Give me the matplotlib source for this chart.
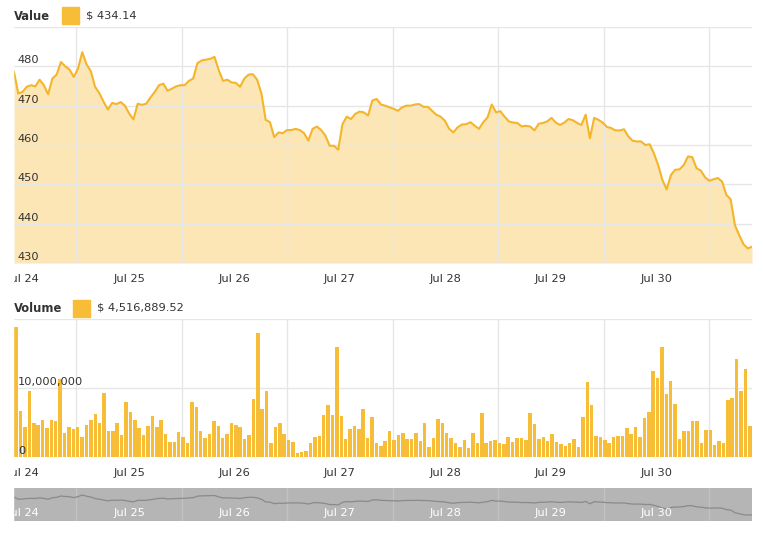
import matplotlib.pyplot as plt
import matplotlib.dates as mdates
from matplotlib.patches import Rectangle
import numpy as np
import pandas as pd

plt.rcParams['font.family'] = ['DejaVu Sans']

# hourly series, one week
start = pd.Timestamp('2016-07-23 21:48')
n_hours = 168

price = [
    478.6, 473.1, 473.5, 474.8, 475.2, 474.9, 476.6, 475.2, 472.9, 476.9,
    477.9, 481.1, 480.0, 479.2, 477.3, 479.4, 483.6, 480.5, 478.8, 474.8,
    473.2, 471.0, 469.0, 470.7, 470.4, 470.9, 470.0, 468.0, 466.5, 470.5,
    470.2, 470.5, 472.1, 473.5, 475.2, 475.6, 473.8, 474.3, 474.9, 475.2,
    475.2, 476.3, 476.9, 480.8, 481.5, 481.7, 481.9, 482.4, 479.0, 476.3,
    476.6, 475.9, 475.8, 474.8, 476.9, 477.9, 478.0, 476.6, 473.1,
    466.4, 465.8, 462.0, 463.2, 463.0, 463.8, 463.8, 464.1, 463.8, 463.0,
    461.1, 464.1, 464.7, 463.8, 462.4, 459.8, 459.8, 458.8, 465.3, 467.2,
    466.6, 467.9, 468.5, 468.3, 467.5, 471.3, 471.7, 470.3, 470.0, 469.6,
    469.2, 468.7, 469.6, 470.0, 470.0, 470.3, 470.4, 469.7, 469.7, 468.7,
    467.7, 467.2, 466.2, 464.1, 463.2, 464.5, 465.2, 465.3, 465.8, 464.9,
    464.1, 465.8, 467.0, 470.3, 468.3, 468.6, 467.2, 466.0,
    465.7, 465.6, 464.7, 464.9, 464.7, 463.7, 465.4, 465.6, 466.0, 466.9,
    465.7, 465.1, 465.7, 466.6, 466.3, 465.6, 465.1, 467.7, 461.7, 466.9,
    466.4, 465.7, 464.6, 464.3, 463.7, 463.7, 464.0, 462.2, 461.1, 460.9,
    460.9, 460.0, 460.2, 457.9, 454.9, 451.1, 448.7, 452.4, 453.7, 453.8,
    454.9, 457.1, 456.9, 454.1, 453.5, 451.8, 450.9, 451.3, 451.6, 450.7,
    447.3, 446.2, 439.6, 437.1, 434.8, 433.7, 434.14,
]

# volume in millions of dollars, one bar per hour
volume_m = [
    18.9, 6.7, 4.3, 9.6, 4.9, 4.6, 5.4, 4.2, 5.4, 5.2, 11.3, 3.5, 4.3, 4.0,
    4.3, 2.9, 4.7, 5.4, 6.2, 4.9, 9.3, 3.7, 3.7, 5.0, 3.2, 7.9, 6.5, 5.4,
    4.2, 3.2, 4.5, 5.9, 4.4, 5.4, 3.4, 2.2, 2.2, 3.6, 2.9, 2.1, 8.0, 7.3,
    3.8, 2.7, 3.3, 5.2, 4.5, 2.7, 3.3, 5.0, 4.6, 4.3, 2.6, 3.2, 8.4, 17.9,
    6.9, 9.6, 2.1, 4.3, 4.9, 3.4, 2.5, 2.2, 0.6, 0.7, 0.8, 2.0, 2.9, 3.0,
    6.1, 7.6, 6.1, 15.9, 5.9, 2.6, 4.1, 4.5, 4.0, 6.9, 2.7, 5.8, 2.1, 1.6,
    2.3, 3.8, 2.5, 3.2, 3.5, 2.6, 2.6, 3.5, 2.3, 4.9, 1.5, 2.7, 5.5, 5.0,
    3.5, 2.7, 2.0, 1.4, 2.5, 1.3, 3.5, 2.0, 6.4, 2.0, 2.3, 2.5, 2.1, 1.9,
    2.9, 2.2, 2.8, 2.8, 2.5, 6.4, 4.8, 2.6, 2.9, 2.3, 3.3, 2.2, 1.9, 1.6,
    2.1, 2.6, 1.5, 5.8, 10.9, 7.5, 3.0, 2.9, 2.5, 2.0, 2.9, 3.0, 3.0, 4.2,
    3.4, 4.3, 2.9, 5.7, 6.5, 12.4, 11.4, 15.9, 9.2, 11.0, 7.7, 2.6, 3.8, 3.8,
    5.2, 5.2, 2.1, 3.9, 3.9, 1.8, 2.3, 2.0, 8.3, 8.6, 14.2, 9.6, 12.7, 4.51688952,
]

value_ticks = [430, 440, 450, 460, 470, 480]
value_grid = [430, 440, 450, 460, 470, 480, 490]
volume_ticks = [0, 10_000_000]
volume_grid = [0, 10_000_000, 20_000_000]
day_labels = pd.date_range('2016-07-24', periods=7, freq='D')

LINE = '#f5b52a'
FILL = '#fce2a8'
BAR = '#f7bd36'
GRID = '#e6e6e6'
TXT = '#333333'
FS = 8.2

end = start + pd.Timedelta(hours=n_hours)
price_x = start + pd.to_timedelta(np.linspace(0, n_hours, len(price)), unit='h')
vol_x = start + pd.to_timedelta(np.arange(n_hours) + 0.1, unit='h')
volume = np.array(volume_m) * 1e6

fig = plt.figure(figsize=(7.63, 5.36), dpi=100)
L, W = 14 / 763, 738 / 763
ax1 = fig.add_axes([L, 1 - 263 / 536, W, 236 / 536])
ax2 = fig.add_axes([L, 1 - 457 / 536, W, 138 / 536])
ax3 = fig.add_axes([L, 1 - 521 / 536, W, 33 / 536])


def style_time_axis(ax):
    ax.set_xlim(start, end)
    ax.xaxis.set_major_locator(mdates.DayLocator())
    ax.xaxis.set_major_formatter(mdates.DateFormatter('%b %d'))
    ax.xaxis.set_minor_locator(mdates.HourLocator(byhour=[12]))
    ax.tick_params(axis='x', which='both', length=0, pad=8, labelsize=FS, colors=TXT)
    ax.tick_params(axis='y', length=0, labelleft=False)
    ax.grid(True, which='minor', axis='x', color=GRID, lw=1, zorder=0)
    for s in ax.spines.values():
        s.set_visible(False)


# --- price panel
style_time_axis(ax1)
ax1.set_ylim(430, 490)
ax1.set_yticks(value_grid)
ax1.grid(True, axis='y', color=GRID, lw=1, zorder=0)
ax1.fill_between(price_x, price, 430, color=FILL, alpha=0.85, lw=0, zorder=1)
ax1.plot(price_x, price, color=LINE, lw=1.5, zorder=2)
for v in value_ticks:
    ax1.annotate(str(v), (0, v), xycoords=ax1.get_yaxis_transform(),
                 xytext=(4, 1), textcoords='offset pixels',
                 ha='left', va='bottom', fontsize=FS, color=TXT, zorder=5)

# --- volume panel
style_time_axis(ax2)
ax2.set_ylim(0, 20_000_000)
ax2.set_yticks(volume_grid)
ax2.grid(True, axis='y', color=GRID, lw=1, zorder=0)
ax2.bar(vol_x, volume, width=0.8 / 24, align='edge', color=BAR, lw=0, zorder=2)
for v in volume_ticks:
    ax2.annotate(f'{v:,}', (0, v), xycoords=ax2.get_yaxis_transform(),
                 xytext=(4, 1), textcoords='offset pixels',
                 ha='left', va='bottom', fontsize=FS, color=TXT, zorder=5)

# --- navigator
ax3.set_facecolor('#b5b5b5')
ax3.set_xlim(start, end)
ax3.set_ylim(419, 501)
ax3.xaxis.set_minor_locator(mdates.HourLocator(byhour=[12]))
ax3.grid(True, which='minor', axis='x', color='#c2c2c2', lw=1)
ax3.tick_params(axis='both', which='both', length=0, labelbottom=False, labelleft=False)
for s in ax3.spines.values():
    s.set_visible(False)
ax3.plot(price_x, price, color='#8a8a8a', lw=0.9)
for d in day_labels:
    ax3.text(d, 0.24, d.strftime('%b %d'), transform=ax3.get_xaxis_transform(),
             ha='center', va='center', fontsize=FS, color='white')

# --- legends
def legend(y_px, title, sq_x, value):
    yc = 1 - y_px / 536
    fig.text(14 / 763, yc, title, fontsize=8.3, fontweight='bold', color=TXT,
             ha='left', va='center')
    fig.patches.append(Rectangle((sq_x / 763, yc - 8.5 / 536), 17 / 763, 17 / 536,
                                 transform=fig.transFigure, color=BAR, zorder=3))
    fig.text((sq_x + 24) / 763, yc, value, fontsize=FS, color=TXT,
             ha='left', va='center')


legend(16, 'Value', 62, f'$ {price[-1]:.2f}')
legend(308, 'Volume', 73, f'$ {volume_m[-1] * 1e6:,.2f}')

# clip the first day label like the original
fig.patches.append(Rectangle((0, 0), 13 / 763, 1, transform=fig.transFigure,
                             color='white', zorder=10))

fig.savefig('out.png', dpi=100)
